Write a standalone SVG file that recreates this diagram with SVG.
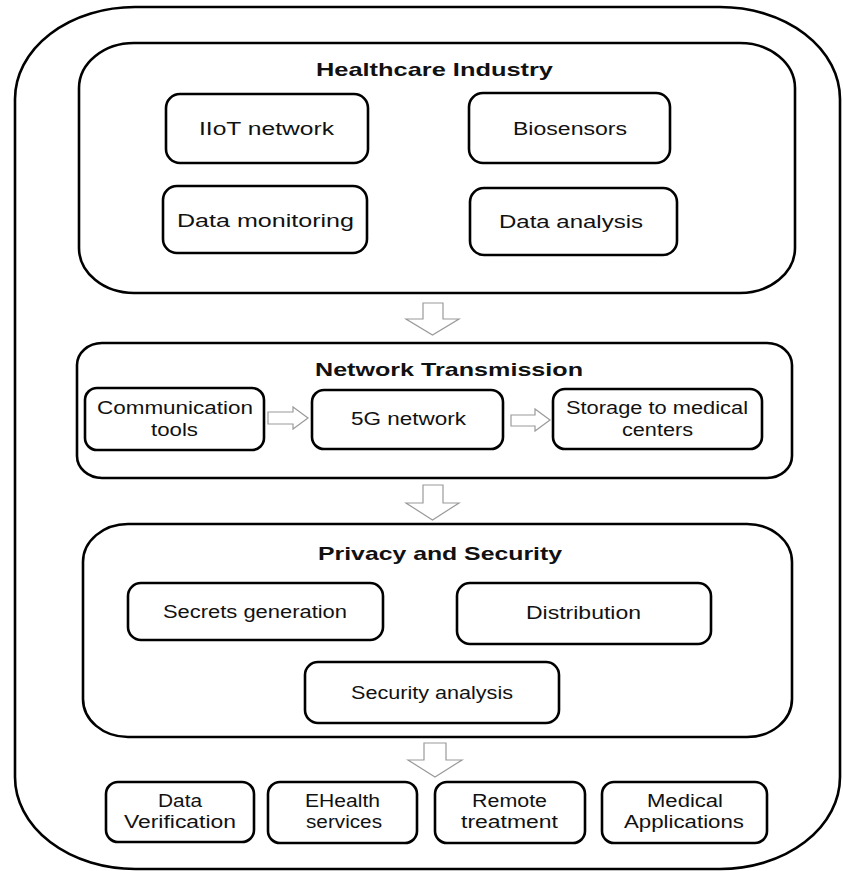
<svg xmlns="http://www.w3.org/2000/svg" width="843" height="871" viewBox="0 0 843 871">
<style>
.frame{fill:none;stroke:#000;stroke-width:2.6}
.box{fill:#fff;stroke:#000;stroke-width:2.6}
.arrow{fill:#fff;stroke:#9a9a9a;stroke-width:1.2;stroke-linejoin:miter}
text{font-family:"Liberation Sans",Arial,sans-serif;font-size:17.5px;fill:#111}
.title{font-weight:bold;font-size:18.5px}
</style>
<rect width="843" height="871" fill="#fff"/>
<g id="outer"><rect class="frame" x="15" y="7" width="825" height="862" rx="120" ry="92"/></g>

<g id="healthcare">
<rect class="box" x="79" y="43" width="716" height="250" rx="55" ry="45"/>
<text class="title" x="316" y="76" textLength="237" lengthAdjust="spacingAndGlyphs">Healthcare Industry</text>
</g>
<g id="iiot"><rect class="box" x="166" y="94" width="202" height="69" rx="14"/>
<text x="199" y="135" textLength="135" lengthAdjust="spacingAndGlyphs">IIoT network</text></g>
<g id="biosensors"><rect class="box" x="469" y="93" width="201" height="70" rx="14"/>
<text x="513" y="135" textLength="114" lengthAdjust="spacingAndGlyphs">Biosensors</text></g>
<g id="monitoring"><rect class="box" x="163" y="186" width="204" height="67" rx="14"/>
<text x="177" y="227" textLength="177" lengthAdjust="spacingAndGlyphs">Data monitoring</text></g>
<g id="analysis"><rect class="box" x="470" y="188" width="207" height="67" rx="14"/>
<text x="499" y="228" textLength="144" lengthAdjust="spacingAndGlyphs">Data analysis</text></g>

<g id="network">
<rect class="box" x="77" y="343" width="715" height="135" rx="25" ry="22"/>
<text class="title" x="315" y="376" textLength="268" lengthAdjust="spacingAndGlyphs">Network Transmission</text>
</g>
<g id="comm"><rect class="box" x="85" y="388" width="179" height="62" rx="12"/>
<text x="97" y="414" textLength="156" lengthAdjust="spacingAndGlyphs">Communication</text>
<text x="151" y="436" textLength="47" lengthAdjust="spacingAndGlyphs">tools</text></g>
<g id="fiveg"><rect class="box" x="312" y="390" width="191" height="59" rx="12"/>
<text x="351" y="425" textLength="115" lengthAdjust="spacingAndGlyphs">5G network</text></g>
<g id="storage"><rect class="box" x="553" y="389" width="209" height="60" rx="12"/>
<text x="566" y="414" textLength="182" lengthAdjust="spacingAndGlyphs">Storage to medical</text>
<text x="622" y="436" textLength="71" lengthAdjust="spacingAndGlyphs">centers</text></g>

<g id="privacy">
<rect class="box" x="83" y="524" width="709" height="213" rx="45" ry="38"/>
<text class="title" x="318" y="560" textLength="244" lengthAdjust="spacingAndGlyphs">Privacy and Security</text>
</g>
<g id="secrets"><rect class="box" x="128" y="583" width="255" height="57" rx="13"/>
<text x="163" y="618" textLength="184" lengthAdjust="spacingAndGlyphs">Secrets generation</text></g>
<g id="distribution"><rect class="box" x="457" y="583" width="254" height="61" rx="13"/>
<text x="526" y="619" textLength="115" lengthAdjust="spacingAndGlyphs">Distribution</text></g>
<g id="secanalysis"><rect class="box" x="305" y="662" width="254" height="61" rx="13"/>
<text x="351" y="699" textLength="162" lengthAdjust="spacingAndGlyphs">Security analysis</text></g>

<g id="verification"><rect class="box" x="106" y="782" width="148" height="60" rx="12"/>
<text x="158" y="807" textLength="44" lengthAdjust="spacingAndGlyphs">Data</text>
<text x="124" y="828" textLength="112" lengthAdjust="spacingAndGlyphs">Verification</text></g>
<g id="ehealth"><rect class="box" x="268" y="782" width="149" height="61" rx="12"/>
<text x="305" y="807" textLength="75" lengthAdjust="spacingAndGlyphs">EHealth</text>
<text x="306" y="828" textLength="76" lengthAdjust="spacingAndGlyphs">services</text></g>
<g id="remote"><rect class="box" x="435" y="782" width="150" height="61" rx="12"/>
<text x="472" y="807" textLength="75" lengthAdjust="spacingAndGlyphs">Remote</text>
<text x="461" y="828" textLength="97" lengthAdjust="spacingAndGlyphs">treatment</text></g>
<g id="medical"><rect class="box" x="602" y="782" width="165" height="61" rx="12"/>
<text x="647" y="807" textLength="76" lengthAdjust="spacingAndGlyphs">Medical</text>
<text x="624" y="828" textLength="120" lengthAdjust="spacingAndGlyphs">Applications</text></g>

<g id="connectors">
<path class="arrow" d="M423,303 H443 V319 H459 L432.5,335 L406,319 H423 Z"/>
<path class="arrow" d="M423,485 H443 V503 H459 L432.5,520 L406,503 H423 Z"/>
<path class="arrow" d="M424,743 H446 V760 H462 L435,777 L408,760 H424 Z"/>
<path class="arrow" d="M268,412 H293 V407 L308,418 L293,429 V424 H268 Z"/>
<path class="arrow" d="M511,415 H535 V409 L550,420 L535,431 V426 H511 Z"/>
</g>
</svg>
